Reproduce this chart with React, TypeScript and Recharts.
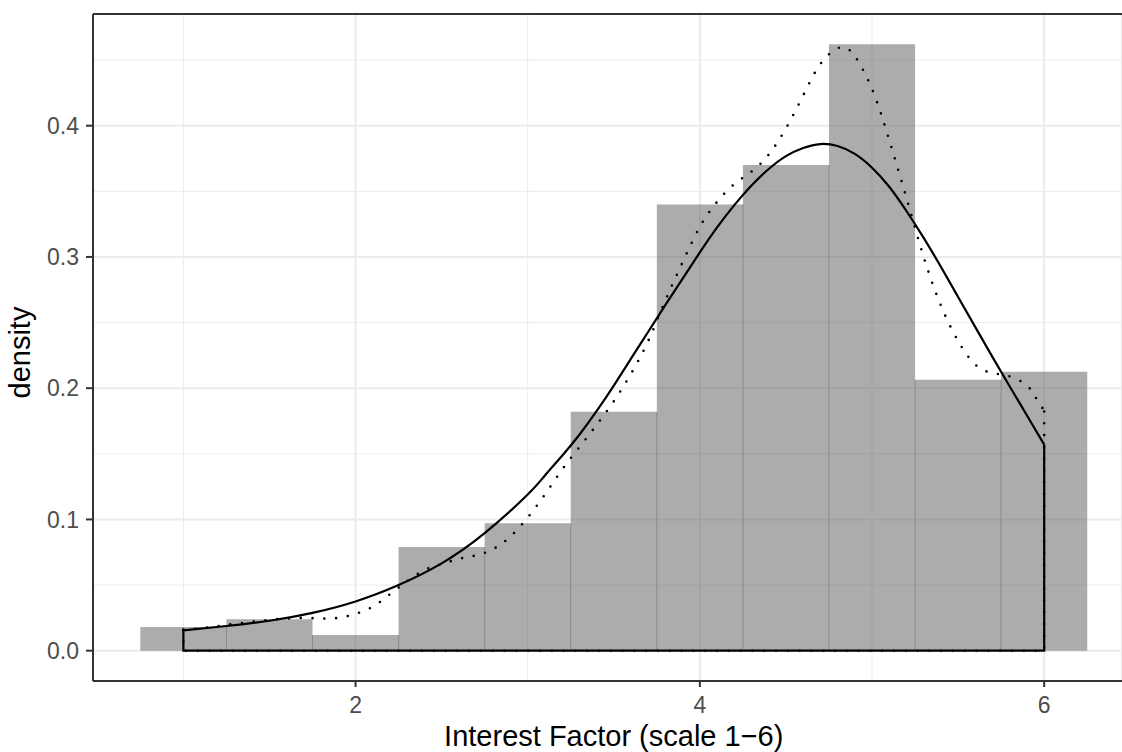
import { ComposedChart, Line, Area, XAxis, YAxis, CartesianGrid, ReferenceLine } from 'recharts'

// histogram (bin width 0.5)
const binMid = [1, 1.5, 2, 2.5, 3, 3.5, 4, 4.5, 5, 5.5, 6]
const binDensity = [0.018, 0.024, 0.012, 0.079, 0.097, 0.182, 0.34, 0.37, 0.462, 0.2065, 0.2125]
const binWidth = 0.5

// fitted curve (solid)
const fitX = [1, 1.25, 1.5, 1.75, 2, 2.25, 2.5, 2.75, 3, 3.1, 3.2, 3.3, 3.4, 3.5, 3.6, 3.7, 3.8, 3.9, 4, 4.1, 4.2, 4.3, 4.4, 4.5, 4.6, 4.7, 4.8, 4.9, 5, 5.1, 5.2, 5.3, 5.4, 5.5, 5.6, 5.7, 5.8, 5.9, 6]
const fitY = [0.0155, 0.0188, 0.0228, 0.0288, 0.0375, 0.05, 0.0665, 0.0895, 0.119, 0.1335, 0.1485, 0.1645, 0.1825, 0.202, 0.2225, 0.243, 0.2635, 0.2835, 0.3035, 0.3225, 0.3395, 0.3545, 0.367, 0.3768, 0.383, 0.386, 0.3845, 0.3785, 0.368, 0.3535, 0.335, 0.3145, 0.2925, 0.2695, 0.2465, 0.2237, 0.2013, 0.1792, 0.157]

// kernel density (dotted)
const kdeX = [1, 1.1, 1.2, 1.3, 1.4, 1.5, 1.6, 1.7, 1.8, 1.9, 2, 2.1, 2.2, 2.3, 2.4, 2.5, 2.6, 2.7, 2.8, 2.9, 3, 3.1, 3.2, 3.3, 3.4, 3.5, 3.6, 3.7, 3.8, 3.9, 4, 4.1, 4.2, 4.3, 4.4, 4.5, 4.6, 4.7, 4.8, 4.85, 4.9, 5, 5.1, 5.2, 5.3, 5.4, 5.5, 5.6, 5.7, 5.8, 5.9, 5.95, 6]
const kdeY = [0.016, 0.017, 0.0187, 0.0205, 0.022, 0.0235, 0.0245, 0.025, 0.0245, 0.025, 0.028, 0.0335, 0.043, 0.053, 0.0615, 0.066, 0.07, 0.0726, 0.0775, 0.087, 0.1015, 0.119, 0.138, 0.155, 0.172, 0.19, 0.211, 0.236, 0.267, 0.296, 0.323, 0.342, 0.3555, 0.365, 0.378, 0.398, 0.423, 0.447, 0.459, 0.459, 0.453, 0.428, 0.389, 0.345, 0.3, 0.263, 0.236, 0.218, 0.2115, 0.209, 0.202, 0.193, 0.183]

const xTicks = [2, 4, 6]
const xMinor = [1, 3, 5]
const yTicks = [0, 0.1, 0.2, 0.3, 0.4]
const yMinor = [0.05, 0.15, 0.25, 0.35, 0.45]

// visible part of the panel (right side is cut off in the original)
const xDomain = [0.475, 6.452]
const yDomain = [-0.0231, 0.4851]

const FONT = '"Liberation Sans", Arial, Helvetica, sans-serif'
const BORDER = '#333333'

const fitData = fitX.map((x, i) => ({ x, y: fitY[i] }))
const kdeData = kdeX.map((x, i) => ({ x, y: kdeY[i] }))

// outline of the density polygons (ends and baseline)
const frame = (xs: number[], ys: number[]) => [
    { x: xs[0], y: ys[0] },
    { x: xs[0], y: 0 },
    { x: xs[xs.length - 1], y: 0 },
    { x: xs[xs.length - 1], y: ys[ys.length - 1] },
]

// histogram as a step area over the bin edges
const histData = binMid
    .map((m, i) => ({ x: m - binWidth / 2, y: binDensity[i] }))
    .concat([{ x: binMid[binMid.length - 1] + binWidth / 2, y: binDensity[binDensity.length - 1] }])
const seps = histData.slice(1, -1).map((d, i) => ({ x: d.x, h: Math.min(d.y, histData[i].y) }))

export default function App() {
    return (
        <div
            style={{
                position: 'absolute',
                left: 0,
                top: 0,
                width: 1122,
                height: 752,
                overflow: 'hidden',
                background: '#fff',
                fontFamily: FONT,
            }}
        >
            <ComposedChart width={1122} height={752} margin={{ top: 14, right: 0, left: 0, bottom: 0 }}>
                <CartesianGrid
                    stroke="#EBEBEB"
                    strokeWidth={1}
                    horizontalValues={yMinor}
                    verticalValues={xMinor}
                />
                <CartesianGrid stroke="#EBEBEB" strokeWidth={2} />
                <XAxis
                    dataKey="x"
                    type="number"
                    domain={xDomain}
                    ticks={xTicks}
                    allowDataOverflow
                    height={71}
                    axisLine={false}
                    tickSize={6}
                    tickMargin={10}
                    tickLine={{ stroke: BORDER, strokeWidth: 2 }}
                    tick={{ fill: '#4D4D4D', fontSize: 23, fontFamily: FONT }}
                />
                <YAxis
                    dataKey="y"
                    type="number"
                    domain={yDomain}
                    ticks={yTicks}
                    allowDataOverflow
                    width={93}
                    axisLine={false}
                    tickSize={7}
                    tickMargin={7}
                    tickFormatter={(v: number) => v.toFixed(1)}
                    tickLine={{ stroke: BORDER, strokeWidth: 2 }}
                    tick={{ fill: '#4D4D4D', fontSize: 23, fontFamily: FONT }}
                />
                <Area
                    data={histData}
                    dataKey="y"
                    type="stepAfter"
                    baseValue={0}
                    fill="#595959"
                    fillOpacity={0.5}
                    stroke="none"
                    dot={false}
                    activeDot={false}
                    isAnimationActive={false}
                />
                {seps.map((s) => (
                    <ReferenceLine
                        key={'s' + s.x}
                        segment={[{ x: s.x, y: 0 }, { x: s.x, y: s.h }]}
                        stroke="#595959"
                        strokeOpacity={0.4}
                        strokeWidth={1}
                    />
                ))}
                <Line
                    data={kdeData}
                    dataKey="y"
                    type="natural"
                    stroke="#000"
                    strokeWidth={2.6}
                    strokeDasharray="0 11.8"
                    strokeLinecap="round"
                    dot={false}
                    activeDot={false}
                    isAnimationActive={false}
                />
                <Line
                    data={frame(kdeX, kdeY)}
                    dataKey="y"
                    type="linear"
                    stroke="#000"
                    strokeWidth={2.6}
                    strokeDasharray="0 11.8"
                    strokeLinecap="round"
                    dot={false}
                    activeDot={false}
                    isAnimationActive={false}
                />
                <Line
                    data={fitData}
                    dataKey="y"
                    type="natural"
                    stroke="#000"
                    strokeWidth={2.2}
                    dot={false}
                    activeDot={false}
                    isAnimationActive={false}
                />
                <Line
                    data={frame(fitX, fitY)}
                    dataKey="y"
                    type="linear"
                    stroke="#000"
                    strokeWidth={2.2}
                    dot={false}
                    activeDot={false}
                    isAnimationActive={false}
                />
                {/* panel border (right edge lies outside the picture) */}
                <ReferenceLine y={yDomain[1]} stroke={BORDER} strokeWidth={2} />
                <ReferenceLine y={yDomain[0]} stroke={BORDER} strokeWidth={2} />
                <ReferenceLine x={xDomain[0]} stroke={BORDER} strokeWidth={2} />
            </ComposedChart>
            <div
                style={{
                    position: 'absolute',
                    left: 313.75,
                    top: 721.5,
                    width: 600,
                    height: 29,
                    lineHeight: '29px',
                    fontSize: 29,
                    textAlign: 'center',
                    color: '#000',
                    whiteSpace: 'nowrap',
                }}
            >
                Interest Factor (scale 1−6)
            </div>
            <div
                style={{
                    position: 'absolute',
                    left: 20 - 100,
                    top: 352 - 14.5,
                    width: 200,
                    height: 29,
                    lineHeight: '29px',
                    fontSize: 29,
                    textAlign: 'center',
                    color: '#000',
                    whiteSpace: 'nowrap',
                    transform: 'rotate(-90deg)',
                }}
            >
                density
            </div>
        </div>
    )
}
